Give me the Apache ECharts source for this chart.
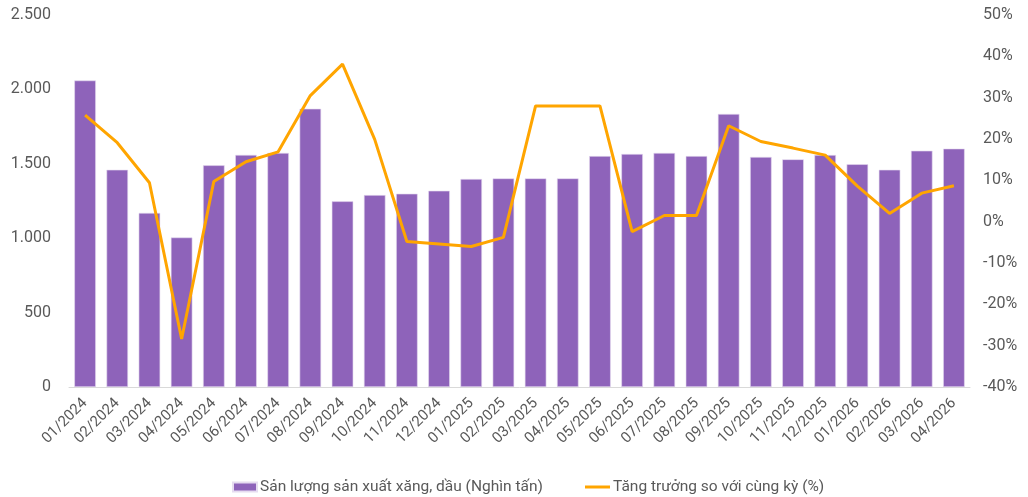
<!DOCTYPE html>
<html>
<head>
<meta charset="utf-8">
<script src="https://cdn.jsdelivr.net/npm/echarts@6/dist/echarts.min.js"></script>
<style>
    html, body { margin: 0; padding: 0; background: #fff; }
    #chart { width: 1028px; height: 497px; }
</style>
</head>
<body>
<div id="chart"></div>
<script>
    // tháng
    var months = [
        '01/2024', '02/2024', '03/2024', '04/2024', '05/2024', '06/2024', '07/2024',
        '08/2024', '09/2024', '10/2024', '11/2024', '12/2024', '01/2025', '02/2025',
        '03/2025', '04/2025', '05/2025', '06/2025', '07/2025', '08/2025', '09/2025',
        '10/2025', '11/2025', '12/2025', '01/2026', '02/2026', '03/2026', '04/2026'
    ];
    // sản lượng (nghìn tấn)
    var output = [
        2060, 1460, 1170, 1005, 1490, 1560, 1573,
        1870, 1248, 1290, 1299, 1319, 1398, 1402,
        1402, 1402, 1552, 1566, 1573, 1552, 1835,
        1546, 1530, 1559, 1497, 1460, 1588, 1602
    ];
    // tăng trưởng so với cùng kỳ (%)
    var growth = [
        25.8, 19.1, 9.4, -28.4, 9.7, 14.5, 16.9,
        30.5, 38.1, 19.9, -4.8, -5.4, -6.0, -3.8,
        28.0, 28.0, 28.0, -2.4, 1.5, 1.5, 23.2,
        19.4, 17.8, 16.1, 8.6, 2.0, 6.9, 8.7
    ];

    var seriesNames = ['Sản lượng sản xuất xăng, dầu (Nghìn tấn)', 'Tăng trưởng so với cùng kỳ (%)'];
    var labelColor = '#595959';
    var fontFamily = 'Roboto, "Noto Sans", sans-serif';
    var legendText = { color: labelColor, fontSize: 15.5, fontFamily: fontFamily, padding: [0, 0, 0, -2] };

    var myChart = echarts.init(document.getElementById('chart'));
    myChart.setOption({
        textStyle: { fontFamily: fontFamily },
        animation: false,
        // 两个图例: 柱状图方块 + 折线细线
        legend: [
            {
                top: 474,
                left: 227,
                itemWidth: 24,
                itemHeight: 9,
                textStyle: legendText,
                data: [{ name: seriesNames[0], icon: 'rect' }]
            },
            {
                top: 474,
                left: 580,
                itemWidth: 25,
                itemHeight: 3,
                textStyle: legendText,
                data: [{ name: seriesNames[1], icon: 'rect' }]
            }
        ],
        grid: {
            left: 69,
            right: 58,
            top: 15,
            bottom: 110
        },
        xAxis: {
            type: 'category',
            data: months,
            axisLine: { lineStyle: { color: '#D9D9D9', width: 1 } },
            axisTick: { show: false },
            axisLabel: {
                rotate: 45,
                interval: 0,
                margin: 14,
                color: labelColor,
                fontSize: 15
            }
        },
        yAxis: [
            {
                type: 'value',
                min: 0,
                max: 2500,
                interval: 500,
                splitLine: { show: false },
                axisLine: { show: false },
                axisLabel: {
                    margin: 18,
                    color: labelColor,
                    fontSize: 16,
                    formatter: function (v) {
                        return v.toString().replace(/\B(?=(\d{3})+(?!\d))/g, '.');
                    }
                }
            },
            {
                type: 'value',
                min: -40,
                max: 50,
                interval: 10,
                splitLine: { show: false },
                axisLine: { show: false },
                axisLabel: {
                    margin: 13,
                    color: labelColor,
                    fontSize: 16,
                    formatter: '{value}%'
                }
            }
        ],
        series: [
            {
                name: seriesNames[0],
                type: 'bar',
                data: output,
                barCategoryGap: '33%',
                itemStyle: { color: '#8E63BA', borderColor: '#E6DCF0', borderWidth: 0.6 }
            },
            {
                name: seriesNames[1],
                type: 'line',
                yAxisIndex: 1,
                data: growth,
                symbol: 'none',
                lineStyle: { color: '#FFA500', width: 3 },
                itemStyle: { color: '#FFA500' }
            }
        ]
    });
</script>
</body>
</html>
